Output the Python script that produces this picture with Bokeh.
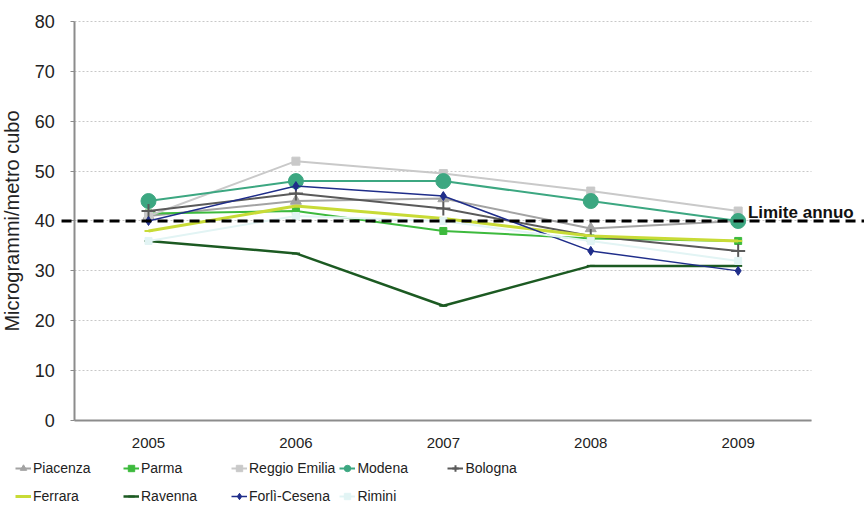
from bokeh.plotting import figure
from bokeh.models import (Range1d, FixedTicker, Legend, LegendItem, Arrow, Label)
from bokeh.embed import file_html
from bokeh.resources import INLINE

years = [2005, 2006, 2007, 2008, 2009]
piacenza = [41, 44, 44.5, 38.5, 40]
parma = [41.5, 42, 38, 36.5, 36]
reggio_emilia = [41, 52, 49.5, 46, 42]
modena = [44, 48, 48, 44, 40]
bologna = [42, 45.5, 42.5, 37, 34]
ferrara = [38, 43, 40.5, 37, 36]
ravenna = [36, 33.5, 23, 31, 31]
forli_cesena = [40, 47, 45, 34, 30]
rimini = [36, 41, 40, 36, 32]
limit_value = 40
limit_label = "Limite annuo"
y_ticks = [0, 10, 20, 30, 40, 50, 60, 70, 80]
y_label = "Microgrammi/metro cubo"

FONT = "Liberation Sans"

# frame covers the whole figure; axes are placed at fixed locations
x0, x1 = years[0] - 0.5, years[-1] + 0.5
p = figure(width=864, height=516, output_backend="svg", toolbar_location=None,
           x_range=Range1d(2003.996, 2009.857), y_range=Range1d(-19.25, 84.21),
           min_border=0)
p.outline_line_color = None
p.background_fill_color = "white"
p.border_fill_color = "white"

p.xgrid.grid_line_color = None
p.ygrid.ticker = FixedTicker(ticks=y_ticks)
p.ygrid.grid_line_color = "#c8c8c8"
p.ygrid.grid_line_dash = "2 2"
p.ygrid.grid_line_width = 1
p.ygrid.cross_bounds = (x0, x1)

p.yaxis.fixed_location = x0
p.yaxis.bounds = (y_ticks[0], y_ticks[-1])
p.yaxis.ticker = FixedTicker(ticks=y_ticks)
p.yaxis.axis_line_color = "#8c8c8c"
p.yaxis.axis_line_width = 2
p.yaxis.major_tick_line_color = "#8c8c8c"
p.yaxis.major_tick_in = 0
p.yaxis.major_tick_out = 4
p.yaxis.minor_tick_line_color = None
p.yaxis.major_label_standoff = 16
p.yaxis.major_label_text_font = FONT
p.yaxis.major_label_text_font_size = "18px"
p.yaxis.major_label_text_color = "#222222"
p.yaxis.axis_label = y_label
p.yaxis.axis_label_text_font = FONT
p.yaxis.axis_label_text_font_style = "normal"
p.yaxis.axis_label_text_font_size = "20px"
p.yaxis.axis_label_text_color = "#222222"
p.yaxis.axis_label_standoff = 8

p.xaxis.fixed_location = 0
p.xaxis.bounds = (x0, x1)
p.xaxis.ticker = FixedTicker(ticks=years)
p.xaxis.major_label_overrides = {y: str(y) for y in years}
p.xaxis.axis_line_color = "#8c8c8c"
p.xaxis.axis_line_width = 2
p.xaxis.major_tick_line_color = None
p.xaxis.minor_tick_line_color = None
p.xaxis.major_label_standoff = 12
p.xaxis.major_label_text_font = FONT
p.xaxis.major_label_text_font_size = "15px"
p.xaxis.major_label_text_color = "#222222"

series = [
    ("Piacenza", piacenza, "#a3a3a3", 2, "triangle", 11),
    ("Parma", parma, "#3dba3d", 2, "square", 7),
    ("Reggio Emilia", reggio_emilia, "#c9c9c9", 2, "square", 8),
    ("Modena", modena, "#3ca781", 2, "circle", 15),
    ("Bologna", bologna, "#5a5a5a", 2, "cross", 14),
    ("Ferrara", ferrara, "#c8db36", 3, "dash", 8),
    ("Ravenna", ravenna, "#1c5a22", 2.5, "dash", 8),
    ("Forlì-Cesena", forli_cesena, "#1f2d8a", 1.5, "diamond", 9),
    ("Rimini", rimini, "#e2f4f4", 2, "square", 7),
]

items = []
for name, vals, color, lw, marker, size in series:
    r_line = p.line(years, vals, line_color=color, line_width=lw)
    if marker in ("cross", "dash"):
        r_pts = p.scatter(years, vals, marker=marker, size=size,
                          line_color=color, line_width=2)
    else:
        r_pts = p.scatter(years, vals, marker=marker, size=size,
                          fill_color=color, line_color=color)
    items.append(LegendItem(label=name, renderers=[r_line, r_pts]))

# annual limit line
p.add_layout(Arrow(end=None, x_start=2004.41, y_start=limit_value,
                   x_end=2009.86, y_end=limit_value,
                   line_color="black", line_width=3, line_dash="10 6"))
p.add_layout(Label(x=2009.066, y=limit_value, text=limit_label,
                   text_font=FONT, text_font_style="bold",
                   text_font_size="17px", text_color="#111111",
                   text_baseline="alphabetic", y_offset=8))

legend = Legend(items=items, location=(15, 8), orientation="horizontal",
                ncols=5, padding=0, margin=0, spacing=4,
                glyph_width=16, glyph_height=24, label_height=24,
                label_width=86, label_standoff=2,
                label_text_font=FONT, label_text_font_size="14px",
                label_text_color="#222222",
                border_line_color=None, background_fill_alpha=0)
p.add_layout(legend, "center")

open("out.html", "w").write(file_html(p, INLINE))
